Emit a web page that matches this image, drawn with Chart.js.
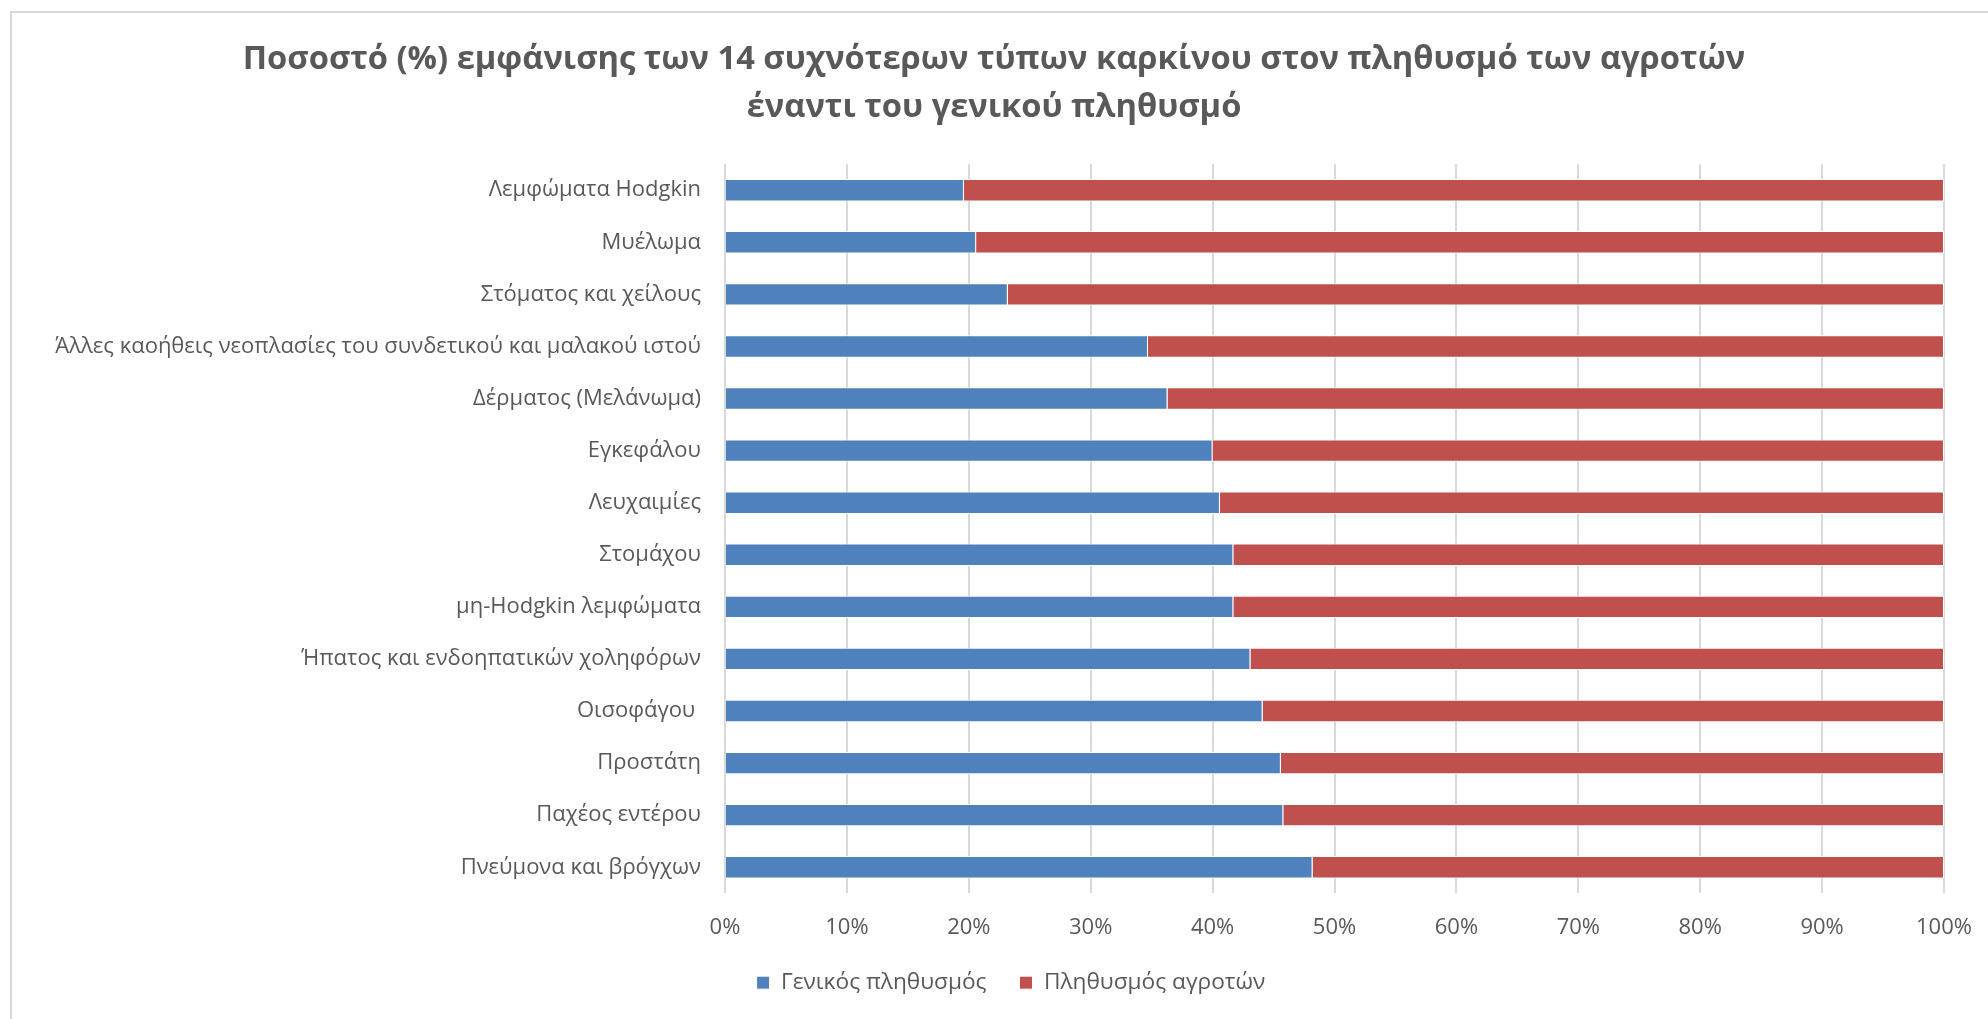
<!DOCTYPE html>
<html>
<head>
<meta charset="utf-8">
<script src="https://cdn.jsdelivr.net/npm/chart.js@4/dist/chart.umd.min.js"></script>
<style>
  html, body { margin: 0; padding: 0; background: #fff; overflow: hidden; }
  #frame {
    position: absolute; left: 10px; top: 11px; width: 2100px; height: 1100px;
    border-left: 2px solid #d9d9d9; border-top: 2px solid #d9d9d9;
  }
  #wrap { position: absolute; left: 0; top: 0; width: 1988px; height: 1019px; }
</style>
</head>
<body>
<div id="frame"></div>
<div id="wrap"><canvas id="cancer-chart"></canvas></div>
<script>
const categories = [
    'Λεμφώματα Hodgkin',
    'Μυέλωμα',
    'Στόματος και χείλους',
    'Άλλες καοήθεις νεοπλασίες του συνδετικού και μαλακού ιστού',
    'Δέρματος (Μελάνωμα)',
    'Εγκεφάλου',
    'Λευχαιμίες',
    'Στομάχου',
    'μη-Hodgkin λεμφώματα',
    'Ήπατος και ενδοηπατικών χοληφόρων',
    'Οισοφάγου ',
    'Προστάτη',
    'Παχέος εντέρου',
    'Πνεύμονα και βρόγχων'
];
// share (%) of each cancer type, general population vs farmers
const generalPop = [19.6, 20.6, 23.2, 34.7, 36.3, 40.0, 40.6, 41.7, 41.7, 43.1, 44.1, 45.6, 45.8, 48.2];
const farmersPop = [80.4, 79.4, 76.8, 65.3, 63.7, 60.0, 59.4, 58.3, 58.3, 56.9, 55.9, 54.4, 54.2, 51.8];
const xTicks = [0, 10, 20, 30, 40, 50, 60, 70, 80, 90, 100];

const textColor = '#595959';
const fontFamily = '"Open Sans", "Noto Sans", sans-serif';

// nudge the legend a bit to the right of the centred spot
const legendShift = {
    id: 'legendShift',
    afterLayout(chart) {
        chart.legend.left += 17;
        chart.legend.right += 17;
    }
};

window.onload = function () {
    const ctx = document.getElementById('cancer-chart').getContext('2d');
    new Chart(ctx, {
        type: 'bar',
        data: {
            labels: categories,
            datasets: [{
                label: 'Γενικός πληθυσμός',
                data: generalPop,
                backgroundColor: '#4f81bd',
                borderColor: '#ffffff',
                borderWidth: 1
            }, {
                label: 'Πληθυσμός αγροτών',
                data: farmersPop,
                backgroundColor: '#c0504d',
                borderColor: '#ffffff',
                borderWidth: 1
            }]
        },
        options: {
            indexAxis: 'y',
            responsive: true,
            maintainAspectRatio: false,
            animation: false,
            barPercentage: 0.43,
            categoryPercentage: 1,
            layout: {
                padding: { left: 44, right: 44, top: 0, bottom: 15 }
            },
            scales: {
                x: {
                    stacked: true,
                    min: 0,
                    max: 100,
                    afterBuildTicks: function (axis) {
                        axis.ticks = xTicks.map(v => ({ value: v }));
                    },
                    afterFit: function (axis) {
                        axis.height = 45;
                        axis.paddingLeft = 0;
                        axis.paddingRight = 0;
                    },
                    ticks: {
                        callback: v => v + '%',
                        color: textColor,
                        font: { family: fontFamily, size: 22 },
                        padding: 21,
                        maxRotation: 0
                    },
                    grid: { color: '#d9d9d9', lineWidth: 2, drawTicks: false },
                    border: { display: false }
                },
                y: {
                    stacked: true,
                    afterFit: function (axis) {
                        axis.width = 681;
                        axis.paddingTop = 0;
                        axis.paddingBottom = 0;
                    },
                    ticks: {
                        color: textColor,
                        font: { family: fontFamily, size: 22 },
                        padding: 24,
                        autoSkip: false
                    },
                    grid: { display: false, drawTicks: false },
                    border: { display: false }
                }
            },
            plugins: {
                title: {
                    display: true,
                    text: [
                        'Ποσοστό (%) εμφάνισης των 14 συχνότερων τύπων καρκίνου στον πληθυσμό των αγροτών',
                        'έναντι του γενικού πληθυσμό'
                    ],
                    color: textColor,
                    font: { family: fontFamily, size: 32.7, weight: 'bold', lineHeight: 1.47 },
                    padding: { top: 36, bottom: 32 }
                },
                legend: {
                    position: 'bottom',
                    labels: {
                        boxWidth: 13,
                        boxHeight: 13,
                        padding: 33,
                        color: textColor,
                        font: { family: fontFamily, size: 22.7 }
                    }
                },
                tooltip: { enabled: false }
            }
        },
        plugins: [legendShift]
    });
};
</script>
</body>
</html>
